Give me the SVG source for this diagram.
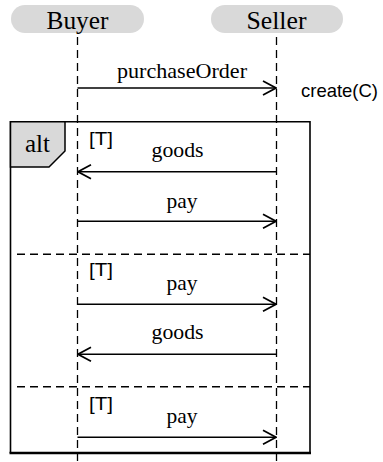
<svg xmlns="http://www.w3.org/2000/svg" width="383" height="462" viewBox="0 0 383 462">
  <style>
    .head { fill: #d9d9d9; }
    .htxt { font-family: "Liberation Serif", "Times New Roman", serif; font-size: 25px; fill: #000; text-anchor: middle; }
    .msg { font-family: "Liberation Serif", "Times New Roman", serif; font-size: 22px; fill: #000; text-anchor: middle; }
    .guard { font-family: "Liberation Sans", Arial, sans-serif; font-size: 19px; fill: #000; }
    .note { font-family: "Liberation Sans", Arial, sans-serif; font-size: 19px; fill: #000; }
    .life { stroke: #000; stroke-width: 1.3; stroke-dasharray: 8 5; fill: none; }
    .sep { stroke: #000; stroke-width: 1.4; stroke-dasharray: 8 5; fill: none; }
    .arrow { stroke: #000; stroke-width: 1.6; fill: none; marker-end: url(#open); }
    .frame { stroke: #000; fill: none; }
  </style>
  <defs>
    <marker id="open" markerUnits="userSpaceOnUse" markerWidth="16" markerHeight="18" viewBox="-15 -9 16 18" refX="0" refY="0" orient="auto">
      <path d="M -13 -7 L 0 0 L -13 7" fill="none" stroke="#000" stroke-width="1.7"/>
    </marker>
  </defs>

  <!-- lifelines -->
  <g id="lifelines">
    <line class="life" x1="77.5" y1="37" x2="77.5" y2="462"/>
    <line class="life" x1="276.5" y1="37" x2="276.5" y2="462"/>
  </g>

  <!-- participants -->
  <g id="buyer">
    <rect class="head" x="11" y="5" width="133" height="28" rx="14"/>
    <text class="htxt" x="77.5" y="29" textLength="62" lengthAdjust="spacingAndGlyphs">Buyer</text>
  </g>
  <g id="seller">
    <rect class="head" x="211" y="5" width="132" height="28" rx="14"/>
    <text class="htxt" x="276.5" y="29" textLength="60" lengthAdjust="spacingAndGlyphs">Seller</text>
  </g>

  <!-- alt combined fragment -->
  <g id="alt">
    <path class="frame" d="M 10.5 453 L 10.5 121.8 L 310 121.8 L 310 453" stroke-width="1.6"/>
    <line class="frame" x1="9.5" y1="453" x2="311" y2="453" stroke-width="2.6"/>
    <path d="M 10.5 121.8 L 65 121.8 L 65 151 L 49 167 L 10.5 167 Z" fill="#d9d9d9" stroke="#000" stroke-width="1.5"/>
    <text class="htxt" x="37.5" y="152" textLength="25" lengthAdjust="spacingAndGlyphs">alt</text>
    <line class="sep" x1="17" y1="254.3" x2="310" y2="254.3"/>
    <line class="sep" x1="17" y1="386.7" x2="310" y2="386.7"/>
    <text class="guard" x="89" y="145" textLength="24" lengthAdjust="spacingAndGlyphs">[T]</text>
    <text class="guard" x="89" y="276" textLength="24" lengthAdjust="spacingAndGlyphs">[T]</text>
    <text class="guard" x="89" y="410" textLength="24" lengthAdjust="spacingAndGlyphs">[T]</text>
  </g>

  <!-- messages -->
  <g id="messages">
    <line class="arrow" x1="77.5" y1="88" x2="276" y2="88"/>
    <text class="msg" x="182" y="77.5" textLength="130" lengthAdjust="spacingAndGlyphs">purchaseOrder</text>

    <line class="arrow" x1="276.5" y1="171.7" x2="78" y2="171.7"/>
    <text class="msg" x="177.5" y="156.7" textLength="52" lengthAdjust="spacingAndGlyphs">goods</text>

    <line class="arrow" x1="77.5" y1="221.3" x2="276" y2="221.3"/>
    <text class="msg" x="182" y="207.5" textLength="31" lengthAdjust="spacingAndGlyphs">pay</text>

    <line class="arrow" x1="77.5" y1="304.3" x2="276" y2="304.3"/>
    <text class="msg" x="182" y="290" textLength="31" lengthAdjust="spacingAndGlyphs">pay</text>

    <line class="arrow" x1="276.5" y1="354.3" x2="78" y2="354.3"/>
    <text class="msg" x="177.5" y="339.3" textLength="52" lengthAdjust="spacingAndGlyphs">goods</text>

    <line class="arrow" x1="77.5" y1="437.3" x2="276" y2="437.3"/>
    <text class="msg" x="182" y="423" textLength="31" lengthAdjust="spacingAndGlyphs">pay</text>
  </g>

  <!-- action note -->
  <g id="create">
    <text class="note" x="301" y="97" textLength="77" lengthAdjust="spacingAndGlyphs">create(C)</text>
  </g>
</svg>
